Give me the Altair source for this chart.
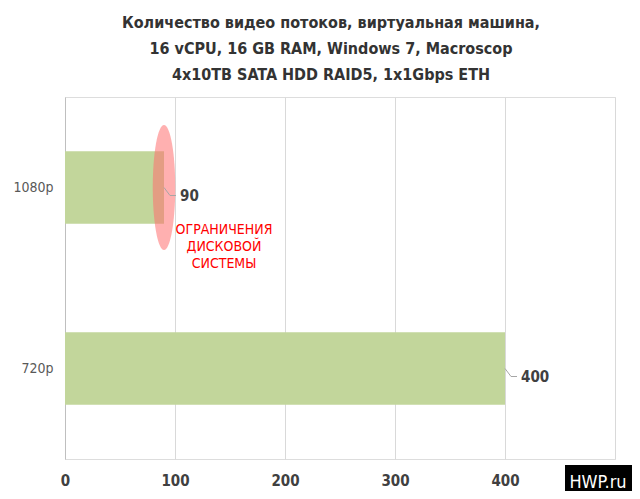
import altair as alt
import pandas as pd

categories = ["1080p", "720p"]
values = [90, 400]
x_ticks = [0, 100, 200, 300, 400, 500]
title_lines = [
    "Количество видео потоков, виртуальная машина,",
    "16 vCPU, 16 GB RAM, Windows 7, Macroscop",
    "4x10TB SATA HDD RAID5, 1x1Gbps ETH",
]
note_lines = ["ОГРАНИЧЕНИЯ", "ДИСКОВОЙ", "СИСТЕМЫ"]
note_value = 90
note_cat = "1080p"
watermark = "HWP.ru"

FONT = "DejaVu Sans Condensed, Roboto, sans-serif"

df = pd.DataFrame({"cat": categories, "value": values})
note_df = pd.DataFrame({"cat": [note_cat], "value": [note_value], "note": [note_lines]})

xscale = alt.Scale(domain=[0, 500], nice=False)
yscale = alt.Scale(domain=categories, paddingInner=0.6, paddingOuter=0.3)

x_enc = alt.X(
    "value:Q",
    scale=xscale,
    axis=alt.Axis(
        title=None,
        values=x_ticks,
        ticks=False,
        domain=False,
        labelFont=FONT,
        labelFontSize=15,
        labelFontWeight="bold",
        labelColor="#404040",
        labelPadding=14,
        labelFlush=False,
        gridColor="#d9d9d9",
        labelExpr="datum.value == 500 ? '' : datum.label",
    ),
)
y_enc = alt.Y(
    "cat:N",
    scale=yscale,
    sort=categories,
    axis=alt.Axis(
        title=None,
        tickBand="extent",
        ticks=False,
        domain=True,
        domainColor="#bfbfbf",
        labelFont=FONT,
        labelFontSize=14,
        labelColor="#595959",
        labelPadding=12,
        gridColor="#bfbfbf",
        gridOpacity={"condition": {"test": "datum.value === '1080p'", "value": 0}, "value": 1},
    ),
)

bars = alt.Chart(df).mark_bar(color="#c2d69b").encode(x=x_enc, y=y_enc)

ellipse = alt.Chart(note_df).mark_point(
    shape="M 0 -1 A 0.18 1 0 1 1 0 1 A 0.18 1 0 1 1 0 -1 Z",
    filled=True,
    color="#ff7070",
    opacity=0.55,
    size=15625,
).encode(x=alt.X("value:Q", scale=xscale), y=alt.Y("cat:N", scale=yscale, sort=categories))

lead_diag = alt.Chart(df).mark_rule(
    color="#a6a6a6", strokeWidth=1, xOffset=0, x2Offset=6, yOffset=0, y2Offset=8
).encode(
    x=alt.X("value:Q", scale=xscale), x2="value:Q",
    y=alt.Y("cat:N", scale=yscale, sort=categories), y2="cat:N",
)
lead_h = alt.Chart(df).mark_rule(
    color="#a6a6a6", strokeWidth=1, xOffset=6, x2Offset=12, yOffset=8, y2Offset=8
).encode(
    x=alt.X("value:Q", scale=xscale), x2="value:Q",
    y=alt.Y("cat:N", scale=yscale, sort=categories), y2="cat:N",
)

labels = alt.Chart(df).mark_text(
    align="left", baseline="middle", dx=16, dy=8,
    font=FONT, fontSize=15, fontWeight="bold", color="#404040",
).encode(
    x=alt.X("value:Q", scale=xscale),
    y=alt.Y("cat:N", scale=yscale, sort=categories),
    text="value:Q",
)

note = alt.Chart(note_df).mark_text(
    align="center", baseline="middle", dx=60, dy=42, lineHeight=17,
    font=FONT, fontSize=14, color="#ff0000",
).encode(
    x=alt.X("value:Q", scale=xscale),
    y=alt.Y("cat:N", scale=yscale, sort=categories),
    text="note",
)

wm_box = alt.Chart(note_df).mark_rect(color="#000000").encode(
    x=alt.value(500), x2=alt.value(567), y=alt.value(368), y2=alt.value(402)
)
wm_text = alt.Chart(note_df).mark_text(
    align="center", baseline="middle", font=FONT, fontSize=18, color="#ffffff"
).encode(x=alt.value(533), y=alt.value(386), text=alt.value(watermark))

chart = alt.layer(bars, ellipse, lead_diag, lead_h, labels, note, wm_box, wm_text).properties(
    width=550,
    height=362,
    padding={"left": 57, "top": 89, "right": 17, "bottom": 32},
    autosize=alt.AutoSizeParams(type="none"),
    title=alt.TitleParams(
        text=title_lines,
        font=FONT,
        fontSize=16,
        fontWeight="bold",
        color="#333333",
        lineHeight=26,
        anchor="middle",
        dx=-9,
        offset=7,
    ),
).configure_view(stroke=None).configure(background="#ffffff")

chart.save("out.html", embed_options={"renderer": "svg", "actions": False})
